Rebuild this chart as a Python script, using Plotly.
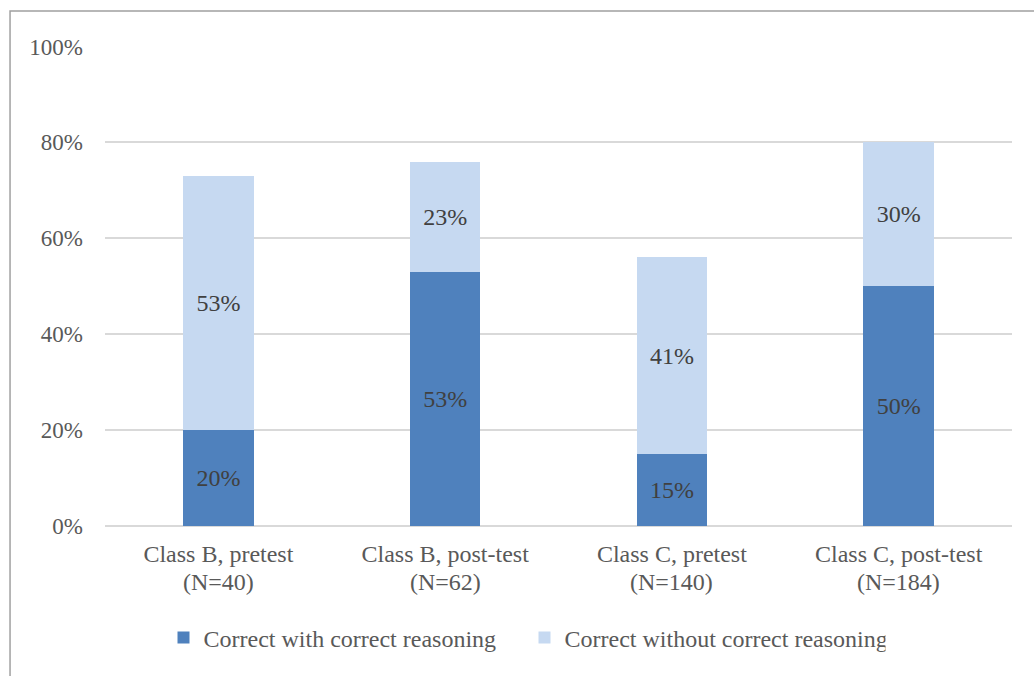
import plotly.graph_objects as go

groups = ["Class B, pretest", "Class B, post-test", "Class C, pretest", "Class C, post-test"]
sample_sizes = [40, 62, 140, 184]
with_reasoning = [20, 53, 15, 50]
without_reasoning = [53, 23, 41, 30]
series_names = ["Correct with correct reasoning", "Correct without correct reasoning"]
y_ticks = [0, 20, 40, 60, 80, 100]
y_tick_labels = ["0%", "20%", "40%", "60%", "80%", "100%"]

FONT = "Liberation Serif, Times New Roman, serif"
TEXT = "#595959"
LABEL = "#404040"

fig = go.Figure()
for vals, name, color in [(with_reasoning, series_names[0], "#4F81BD"),
                          (without_reasoning, series_names[1], "#C6D9F1")]:
    fig.add_trace(go.Bar(
        x=groups, y=vals, name=name,
        marker=dict(color=color, line=dict(width=0)),
        text=[f"{v}%" for v in vals], textposition="inside",
        insidetextanchor="middle", textfont=dict(family=FONT, size=24, color=LABEL),
        width=0.31,
    ))

# second line of each category label: the group size
for g, n in zip(groups, sample_sizes):
    fig.add_annotation(x=g, xref="x", y=-0.1167, yref="paper", yanchor="middle",
                       text=f"(N={n})", showarrow=False,
                       font=dict(family=FONT, size=24, color=TEXT))

fig.update_layout(
    barmode="stack",
    width=1034, height=676,
    margin=dict(l=105, r=22, t=46, b=150),
    paper_bgcolor="white", plot_bgcolor="white",
    font=dict(family=FONT, size=24, color=TEXT),
    showlegend=True,
    legend=dict(orientation="h", x=0.0645, xanchor="left", y=-0.233, yanchor="middle",
                font=dict(family=FONT, size=24, color=TEXT), traceorder="normal",
                itemwidth=30, entrywidth=316, entrywidthmode="pixels"),
    xaxis=dict(showgrid=False, showline=False, ticks="", ticklabelstandoff=11,
               tickfont=dict(size=24, color=TEXT)),
    yaxis=dict(range=[0, 100.1], tickvals=y_ticks, ticktext=y_tick_labels,
               showgrid=True, gridcolor="#D9D9D9", gridwidth=1.5,
               zeroline=True, zerolinecolor="#D9D9D9", zerolinewidth=1.5,
               showline=False, ticks="", ticklabelstandoff=21,
               tickfont=dict(size=23, color=TEXT)),
    shapes=[dict(type="rect", xref="paper", yref="paper",
                 x0=-0.1047, x1=1.06, y0=-0.45, y1=1.0729,
                 line=dict(color="#A0A0A0", width=1.5), fillcolor="rgba(0,0,0,0)",
                 layer="below")],
)

fig.write_html("out.html")
